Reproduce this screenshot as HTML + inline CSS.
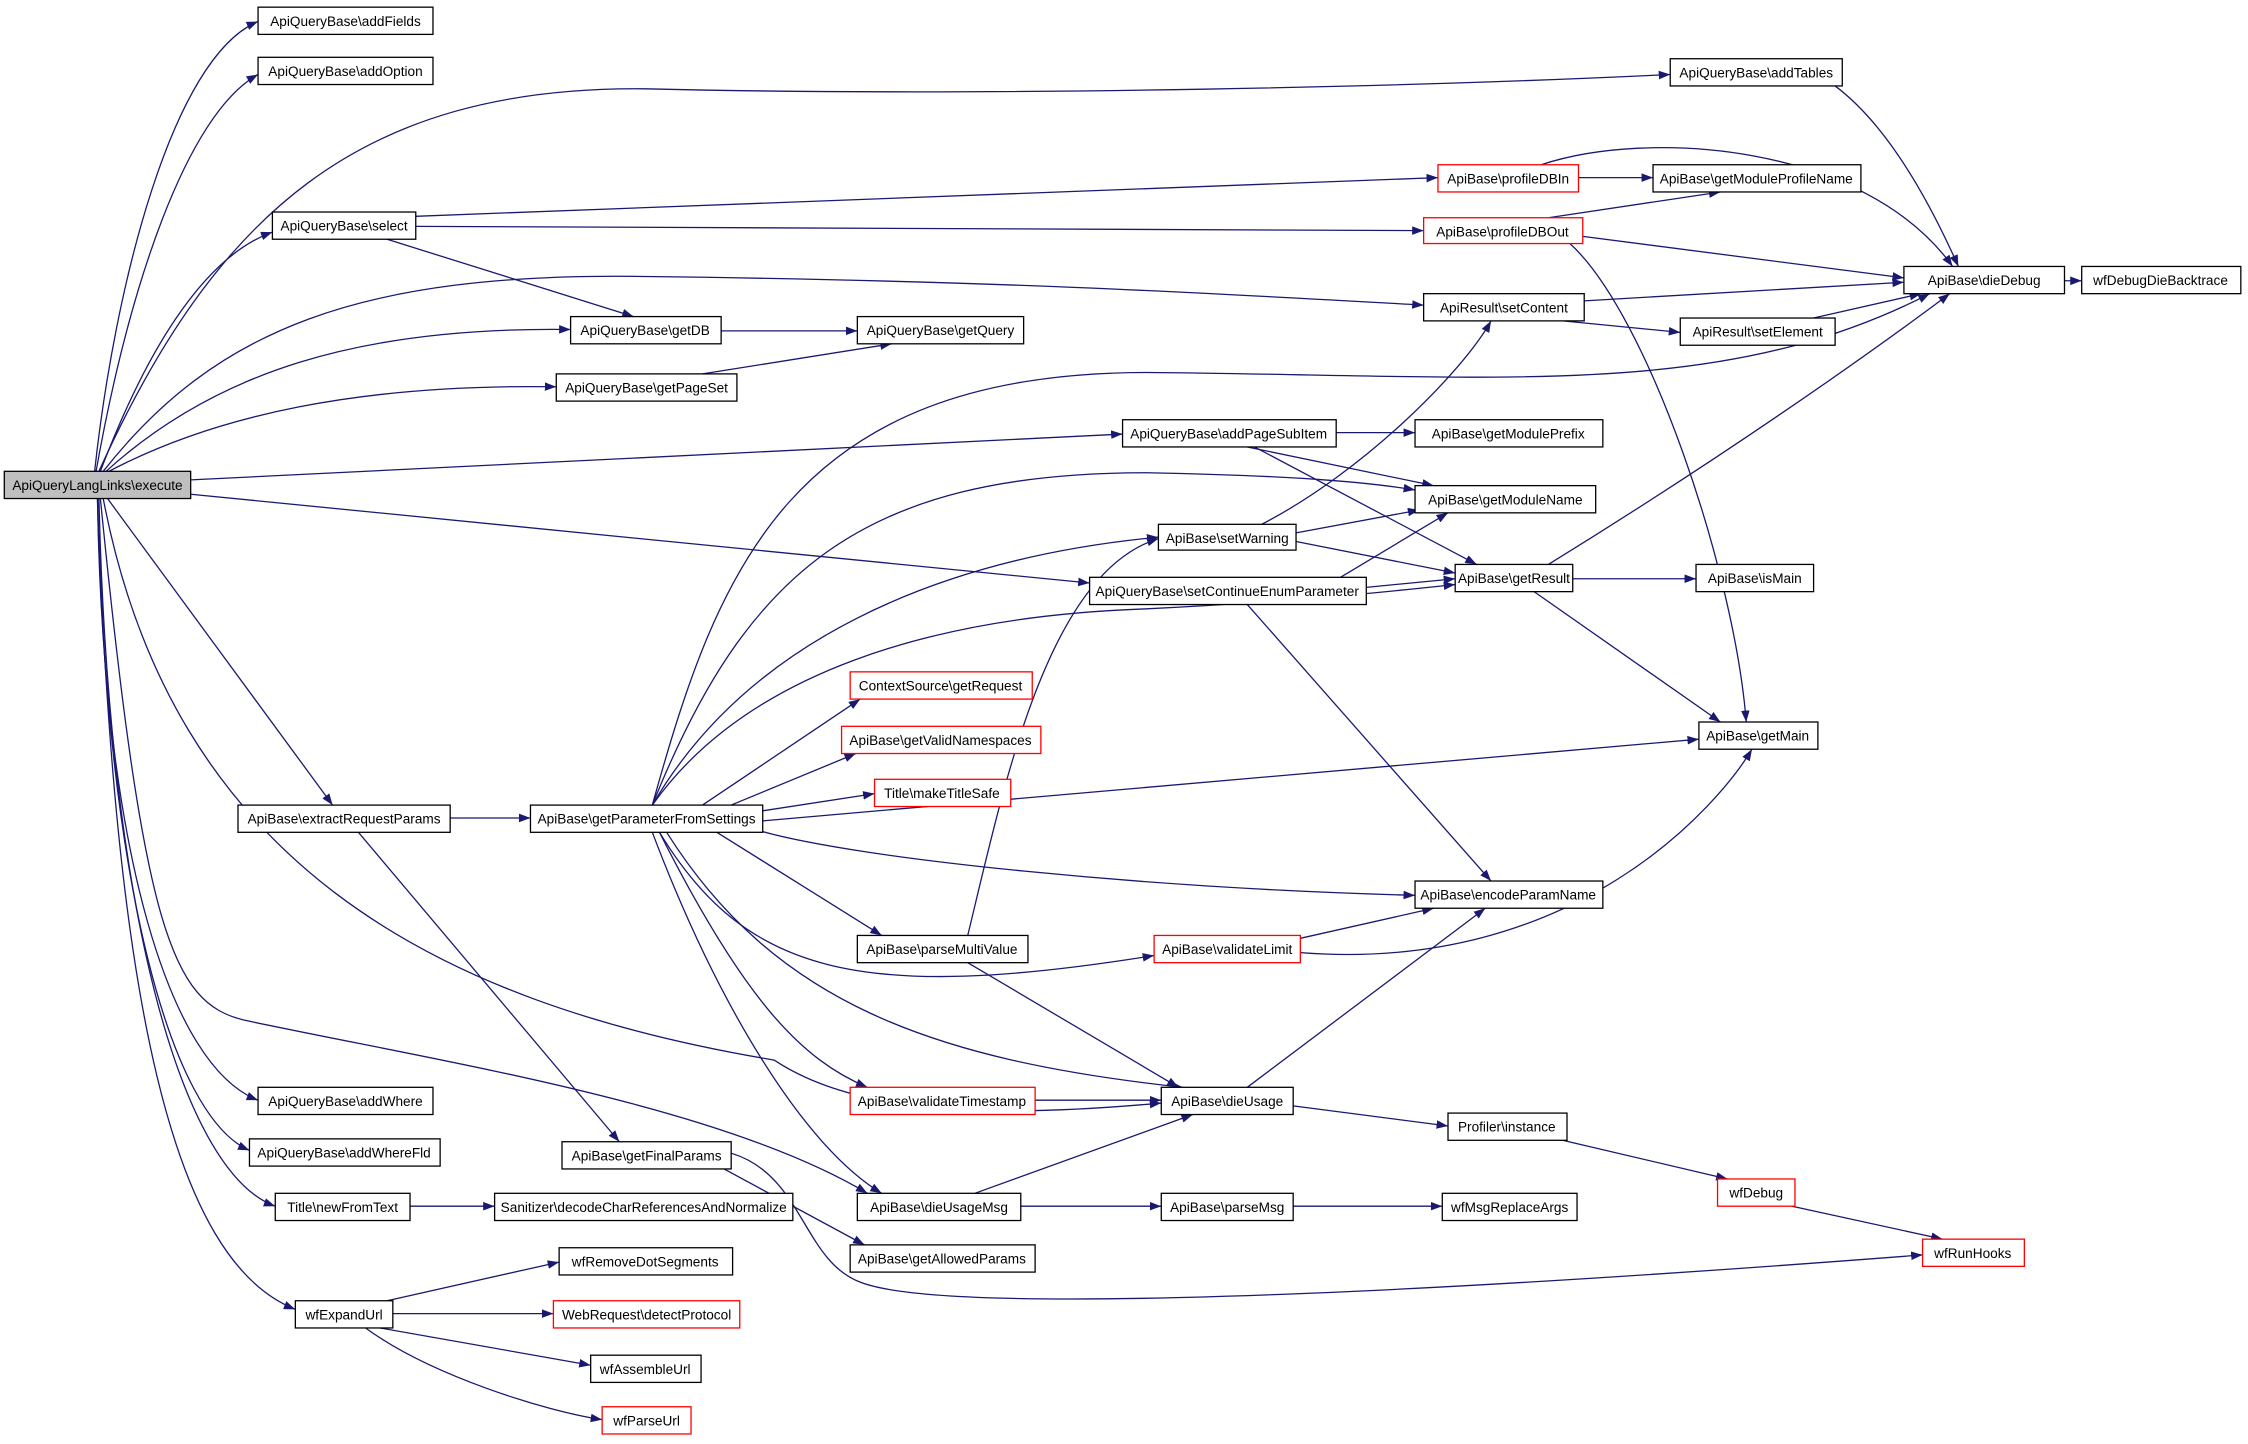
<!DOCTYPE html>
<html><head><meta charset="utf-8"><style>html,body{margin:0;padding:0;background:#fff}svg{display:block}</style></head><body>
<svg xmlns="http://www.w3.org/2000/svg" width="2248" height="1444" viewBox="0 0 1568 1008" preserveAspectRatio="none">
<defs><marker id="a" markerUnits="userSpaceOnUse" markerWidth="9" markerHeight="7" refX="8" refY="3" orient="auto"><path d="M0,0 L8,3 L0,6 z" fill="#191970"/></marker></defs>
<g fill="none" stroke="#191970" stroke-width="0.9" marker-end="url(#a)">
<path d="M66,329 C80,200 120,40 180,15"/>
<path d="M67,329 C90,200 130,80 180,52"/>
<path d="M69,329 C150,150 250,60 450,62 C700,68 1000,60 1165,52"/>
<path d="M70,329 C100,250 140,180 190,162"/>
<path d="M72,329 C150,230 250,190 450,193 C700,196 850,205 993,213"/>
<path d="M74,329 C150,260 250,228 398,230"/>
<path d="M76,329 C150,290 250,268 388,270"/>
<path d="M133,335 L783,303"/>
<path d="M133,345 L760,407"/>
<path d="M75,348 L232,562"/>
<path d="M68,348 C72,600 120,745 180,768"/>
<path d="M68,348 C74,620 120,780 174,803"/>
<path d="M69,348 C76,650 130,820 192,842"/>
<path d="M68,348 C80,700 120,880 206,914"/>
<path d="M72,348 C120,600 300,700 540,740 C600,780 700,780 810,770"/>
<path d="M70,348 C100,650 120,700 170,712 C300,740 500,770 605,833"/>
<path d="M290,151 L1003,124"/>
<path d="M290,158 L993,161"/>
<path d="M270,167 L442,221"/>
<path d="M1101,124 L1153,124"/>
<path d="M1075,115 C1150,90 1300,100 1362,186"/>
<path d="M1280,60 C1320,90 1350,150 1366,186"/>
<path d="M1080,152 L1200,134"/>
<path d="M1104,165 L1328,194"/>
<path d="M1095,170 C1150,220 1210,400 1218,504"/>
<path d="M1105,210 L1328,197"/>
<path d="M1090,224 L1172,232"/>
<path d="M1265,222 L1340,205"/>
<path d="M1440,196 L1452,196"/>
<path d="M503,231 L598,231"/>
<path d="M490,261 L622,240"/>
<path d="M455,562 C500,400 550,260 800,260 C1050,262 1200,280 1346,205"/>
<path d="M932,302 L987,302"/>
<path d="M870,312 L1000,339"/>
<path d="M875,312 L1030,394"/>
<path d="M455,562 C520,400 600,330 800,330 C900,332 950,336 987,342"/>
<path d="M904,372 L990,356"/>
<path d="M904,378 L1015,400"/>
<path d="M880,366 C950,330 1020,260 1040,224"/>
<path d="M935,403 L1010,358"/>
<path d="M953,410 L1015,404"/>
<path d="M870,422 L1040,615"/>
<path d="M1080,394 C1200,320 1300,250 1360,205"/>
<path d="M1097,404 L1183,404"/>
<path d="M1070,413 L1200,504"/>
<path d="M455,562 C520,450 650,390 808,375"/>
<path d="M455,562 C520,470 650,430 800,425 C900,420 960,414 1015,408"/>
<path d="M490,562 L600,488"/>
<path d="M510,562 L597,526"/>
<path d="M532,566 L610,554"/>
<path d="M532,573 L1185,516"/>
<path d="M530,580 C600,600 800,620 987,625"/>
<path d="M500,581 L615,653"/>
<path d="M460,581 C520,680 600,700 805,667"/>
<path d="M465,581 C540,700 650,740 825,759"/>
<path d="M460,581 C520,700 560,740 605,759"/>
<path d="M455,581 C500,700 560,800 615,833"/>
<path d="M675,653 C700,550 730,400 808,376"/>
<path d="M675,672 L822,759"/>
<path d="M907,655 L1000,634"/>
<path d="M907,665 C1100,680 1200,560 1222,523"/>
<path d="M870,759 L1036,634"/>
<path d="M902,772 L1010,786"/>
<path d="M722,768 L810,768"/>
<path d="M680,833 L832,778"/>
<path d="M712,842 L810,842"/>
<path d="M902,842 L1006,842"/>
<path d="M1090,796 L1205,823"/>
<path d="M1250,842 L1355,865"/>
<path d="M505,816 L603,869"/>
<path d="M510,805 C560,820 560,880 600,895 C650,915 900,910 1341,876"/>
<path d="M314,571 L370,571"/>
<path d="M250,581 L432,797"/>
<path d="M286,842 L345,842"/>
<path d="M270,908 L390,881"/>
<path d="M274,917 L386,917"/>
<path d="M265,927 L412,953"/>
<path d="M255,927 C300,960 380,985 420,991"/>
</g>
<g font-family="Liberation Sans, sans-serif" font-size="9.5" text-anchor="middle" stroke-width="0.9">
<g id="n">
</g>
</g>
<g font-family="Liberation Sans, sans-serif" font-size="9.5" text-anchor="middle">
<!-- nodes -->
<rect x="180" y="5" width="122" height="19" fill="#fff" stroke="#000" stroke-width="0.9"/><text x="241" y="18">ApiQueryBase\addFields</text>
<rect x="180" y="40" width="122" height="19" fill="#fff" stroke="#000" stroke-width="0.9"/><text x="241" y="53">ApiQueryBase\addOption</text>
<rect x="1165" y="41" width="120" height="19" fill="#fff" stroke="#000" stroke-width="0.9"/><text x="1225" y="54">ApiQueryBase\addTables</text>
<rect x="1003" y="115" width="98" height="19" fill="#fff" stroke="#f00" stroke-width="0.9"/><text x="1052" y="128">ApiBase\profileDBIn</text>
<rect x="1153" y="115" width="145" height="19" fill="#fff" stroke="#000" stroke-width="0.9"/><text x="1225" y="128">ApiBase\getModuleProfileName</text>
<rect x="190" y="148" width="100" height="19" fill="#fff" stroke="#000" stroke-width="0.9"/><text x="240" y="161">ApiQueryBase\select</text>
<rect x="993" y="152" width="111" height="18" fill="#fff" stroke="#f00" stroke-width="0.9"/><text x="1048" y="165">ApiBase\profileDBOut</text>
<rect x="1328" y="186" width="112" height="19" fill="#fff" stroke="#000" stroke-width="0.9"/><text x="1384" y="199">ApiBase\dieDebug</text>
<rect x="1452" y="186" width="111" height="19" fill="#fff" stroke="#000" stroke-width="0.9"/><text x="1507" y="199">wfDebugDieBacktrace</text>
<rect x="993" y="205" width="112" height="19" fill="#fff" stroke="#000" stroke-width="0.9"/><text x="1049" y="218">ApiResult\setContent</text>
<rect x="398" y="221" width="105" height="19" fill="#fff" stroke="#000" stroke-width="0.9"/><text x="450" y="234">ApiQueryBase\getDB</text>
<rect x="598" y="221" width="116" height="19" fill="#fff" stroke="#000" stroke-width="0.9"/><text x="656" y="234">ApiQueryBase\getQuery</text>
<rect x="1172" y="222" width="108" height="19" fill="#fff" stroke="#000" stroke-width="0.9"/><text x="1226" y="235">ApiResult\setElement</text>
<rect x="388" y="261" width="126" height="19" fill="#fff" stroke="#000" stroke-width="0.9"/><text x="451" y="274">ApiQueryBase\getPageSet</text>
<rect x="783" y="293" width="149" height="19" fill="#fff" stroke="#000" stroke-width="0.9"/><text x="857" y="306">ApiQueryBase\addPageSubItem</text>
<rect x="987" y="293" width="131" height="19" fill="#fff" stroke="#000" stroke-width="0.9"/><text x="1052" y="306">ApiBase\getModulePrefix</text>
<rect x="3" y="329" width="130" height="19" fill="#bfbfbf" stroke="#000" stroke-width="0.9"/><text x="68" y="342">ApiQueryLangLinks\execute</text>
<rect x="987" y="339" width="126" height="19" fill="#fff" stroke="#000" stroke-width="0.9"/><text x="1050" y="352">ApiBase\getModuleName</text>
<rect x="808" y="366" width="96" height="18" fill="#fff" stroke="#000" stroke-width="0.9"/><text x="856" y="379">ApiBase\setWarning</text>
<rect x="760" y="403" width="193" height="19" fill="#fff" stroke="#000" stroke-width="0.9"/><text x="856" y="416">ApiQueryBase\setContinueEnumParameter</text>
<rect x="1015" y="394" width="82" height="19" fill="#fff" stroke="#000" stroke-width="0.9"/><text x="1056" y="407">ApiBase\getResult</text>
<rect x="1183" y="394" width="82" height="19" fill="#fff" stroke="#000" stroke-width="0.9"/><text x="1224" y="407">ApiBase\isMain</text>
<rect x="593" y="469" width="127" height="19" fill="#fff" stroke="#f00" stroke-width="0.9"/><text x="656" y="482">ContextSource\getRequest</text>
<rect x="587" y="507" width="139" height="19" fill="#fff" stroke="#f00" stroke-width="0.9"/><text x="656" y="520">ApiBase\getValidNamespaces</text>
<rect x="1185" y="504" width="83" height="19" fill="#fff" stroke="#000" stroke-width="0.9"/><text x="1226" y="517">ApiBase\getMain</text>
<rect x="610" y="544" width="95" height="19" fill="#fff" stroke="#f00" stroke-width="0.9"/><text x="657" y="557">Title\makeTitleSafe</text>
<rect x="166" y="562" width="148" height="19" fill="#fff" stroke="#000" stroke-width="0.9"/><text x="240" y="575">ApiBase\extractRequestParams</text>
<rect x="370" y="562" width="162" height="19" fill="#fff" stroke="#000" stroke-width="0.9"/><text x="451" y="575">ApiBase\getParameterFromSettings</text>
<rect x="987" y="615" width="131" height="19" fill="#fff" stroke="#000" stroke-width="0.9"/><text x="1052" y="628">ApiBase\encodeParamName</text>
<rect x="598" y="653" width="119" height="19" fill="#fff" stroke="#000" stroke-width="0.9"/><text x="657" y="666">ApiBase\parseMultiValue</text>
<rect x="805" y="653" width="102" height="19" fill="#fff" stroke="#f00" stroke-width="0.9"/><text x="856" y="666">ApiBase\validateLimit</text>
<rect x="180" y="759" width="122" height="19" fill="#fff" stroke="#000" stroke-width="0.9"/><text x="241" y="772">ApiQueryBase\addWhere</text>
<rect x="593" y="759" width="129" height="19" fill="#fff" stroke="#f00" stroke-width="0.9"/><text x="657" y="772">ApiBase\validateTimestamp</text>
<rect x="810" y="759" width="92" height="19" fill="#fff" stroke="#000" stroke-width="0.9"/><text x="856" y="772">ApiBase\dieUsage</text>
<rect x="1010" y="777" width="83" height="19" fill="#fff" stroke="#000" stroke-width="0.9"/><text x="1051" y="790">Profiler\instance</text>
<rect x="174" y="795" width="133" height="19" fill="#fff" stroke="#000" stroke-width="0.9"/><text x="240" y="808">ApiQueryBase\addWhereFld</text>
<rect x="392" y="797" width="118" height="19" fill="#fff" stroke="#000" stroke-width="0.9"/><text x="451" y="810">ApiBase\getFinalParams</text>
<rect x="598" y="833" width="114" height="19" fill="#fff" stroke="#000" stroke-width="0.9"/><text x="655" y="846">ApiBase\dieUsageMsg</text>
<rect x="1198" y="823" width="54" height="19" fill="#fff" stroke="#f00" stroke-width="0.9"/><text x="1225" y="836">wfDebug</text>
<rect x="192" y="833" width="94" height="19" fill="#fff" stroke="#000" stroke-width="0.9"/><text x="239" y="846">Title\newFromText</text>
<rect x="345" y="833" width="208" height="19" fill="#fff" stroke="#000" stroke-width="0.9"/><text x="449" y="846">Sanitizer\decodeCharReferencesAndNormalize</text>
<rect x="810" y="833" width="92" height="19" fill="#fff" stroke="#000" stroke-width="0.9"/><text x="856" y="846">ApiBase\parseMsg</text>
<rect x="1006" y="833" width="94" height="19" fill="#fff" stroke="#000" stroke-width="0.9"/><text x="1053" y="846">wfMsgReplaceArgs</text>
<rect x="593" y="869" width="129" height="19" fill="#fff" stroke="#000" stroke-width="0.9"/><text x="657" y="882">ApiBase\getAllowedParams</text>
<rect x="1341" y="865" width="71" height="19" fill="#fff" stroke="#f00" stroke-width="0.9"/><text x="1376" y="878">wfRunHooks</text>
<rect x="390" y="871" width="121" height="19" fill="#fff" stroke="#000" stroke-width="0.9"/><text x="450" y="884">wfRemoveDotSegments</text>
<rect x="206" y="908" width="68" height="19" fill="#fff" stroke="#000" stroke-width="0.9"/><text x="240" y="921">wfExpandUrl</text>
<rect x="386" y="908" width="130" height="19" fill="#fff" stroke="#f00" stroke-width="0.9"/><text x="451" y="921">WebRequest\detectProtocol</text>
<rect x="412" y="946" width="77" height="19" fill="#fff" stroke="#000" stroke-width="0.9"/><text x="450" y="959">wfAssembleUrl</text>
<rect x="420" y="982" width="62" height="19" fill="#fff" stroke="#f00" stroke-width="0.9"/><text x="451" y="995">wfParseUrl</text>
</g>
</svg>
</body></html>
